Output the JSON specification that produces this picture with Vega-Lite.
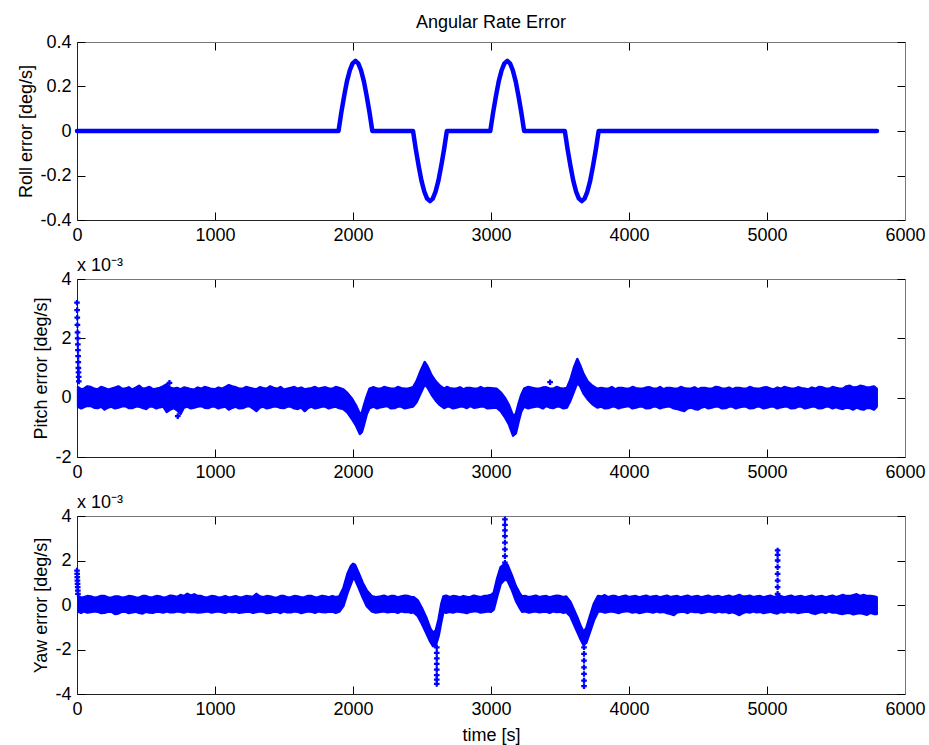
{
"$schema": "https://vega.github.io/schema/vega-lite/v6.json",
"padding": {"left": 17, "top": 14, "right": 10, "bottom": 5},
"spacing": 59,
"bounds": "flush",
"config": {
 "font": "Liberation Sans",
 "view": {"stroke": null},
 "axis": {"grid": false, "labelFontSize": 18, "labelColor": "#000", "titleFontSize": 18, "titleFontWeight": "normal", "titleColor": "#000", "tickSize": -8, "tickColor": "#000", "tickWidth": 1, "domainColor": "#222", "domainWidth": 1, "labelFlush": false, "labelOverlap": false, "labelFont": "Liberation Sans", "titleFont": "Liberation Sans", "labelPadding": 14},
 "title": {"fontSize": 18, "fontWeight": "normal", "font": "Liberation Sans", "color": "#000", "frame": "group"}
},
"datasets": {
 "roll": [{"t":0,"v":0},{"t":1895,"v":0},{"t":1915,"v":0.082},{"t":1936,"v":0.158},{"t":1956,"v":0.223},{"t":1977,"v":0.273},{"t":1997,"v":0.304},{"t":2018,"v":0.315},{"t":2038,"v":0.304},{"t":2058,"v":0.273},{"t":2079,"v":0.223},{"t":2099,"v":0.158},{"t":2120,"v":0.082},{"t":2140,"v":0},
  {"t":2435,"v":0},{"t":2455,"v":-0.082},{"t":2476,"v":-0.158},{"t":2496,"v":-0.223},{"t":2517,"v":-0.273},{"t":2537,"v":-0.304},{"t":2558,"v":-0.315},{"t":2578,"v":-0.304},{"t":2598,"v":-0.273},{"t":2619,"v":-0.223},{"t":2639,"v":-0.158},{"t":2660,"v":-0.082},{"t":2680,"v":0},
  {"t":2995,"v":0},{"t":3015,"v":0.082},{"t":3036,"v":0.158},{"t":3056,"v":0.223},{"t":3077,"v":0.273},{"t":3097,"v":0.304},{"t":3118,"v":0.315},{"t":3138,"v":0.304},{"t":3158,"v":0.273},{"t":3179,"v":0.223},{"t":3199,"v":0.158},{"t":3220,"v":0.082},{"t":3240,"v":0},
  {"t":3535,"v":0},{"t":3555,"v":-0.082},{"t":3576,"v":-0.158},{"t":3596,"v":-0.223},{"t":3617,"v":-0.273},{"t":3637,"v":-0.304},{"t":3658,"v":-0.315},{"t":3678,"v":-0.304},{"t":3698,"v":-0.273},{"t":3719,"v":-0.223},{"t":3739,"v":-0.158},{"t":3760,"v":-0.082},{"t":3780,"v":0},{"t":5797,"v":0}],
 "pitch": [{"t":8,"lo":-0.3,"hi":0.35},{"t":30,"lo":-0.36,"hi":0.28},{"t":50,"lo":-0.32,"hi":0.3},{"t":75,"lo":-0.27,"hi":0.38},{"t":100,"lo":-0.28,"hi":0.36},{"t":125,"lo":-0.34,"hi":0.3},{"t":150,"lo":-0.35,"hi":0.28},{"t":175,"lo":-0.3,"hi":0.36},{"t":200,"lo":-0.4,"hi":0.32},{"t":225,"lo":-0.33,"hi":0.27},{"t":250,"lo":-0.3,"hi":0.3},{"t":275,"lo":-0.36,"hi":0.34},{"t":300,"lo":-0.33,"hi":0.38},{"t":325,"lo":-0.29,"hi":0.3},{"t":350,"lo":-0.28,"hi":0.3},{"t":375,"lo":-0.35,"hi":0.35},{"t":400,"lo":-0.35,"hi":0.27},{"t":425,"lo":-0.3,"hi":0.33},{"t":450,"lo":-0.3,"hi":0.4},{"t":475,"lo":-0.34,"hi":0.3},{"t":500,"lo":-0.38,"hi":0.32},{"t":525,"lo":-0.3,"hi":0.36},{"t":550,"lo":-0.3,"hi":0.28},{"t":575,"lo":-0.36,"hi":0.3},{"t":600,"lo":-0.32,"hi":0.33},{"t":625,"lo":-0.3,"hi":0.38},{"t":650,"lo":-0.48,"hi":0.45},{"t":675,"lo":-0.4,"hi":0.34},{"t":700,"lo":-0.35,"hi":0.3},{"t":725,"lo":-0.42,"hi":0.33},{"t":750,"lo":-0.55,"hi":0.28},{"t":775,"lo":-0.33,"hi":0.34},{"t":800,"lo":-0.3,"hi":0.32},{"t":825,"lo":-0.36,"hi":0.28},{"t":850,"lo":-0.33,"hi":0.27},{"t":875,"lo":-0.3,"hi":0.34},{"t":900,"lo":-0.28,"hi":0.3},{"t":925,"lo":-0.34,"hi":0.36},{"t":950,"lo":-0.35,"hi":0.33},{"t":975,"lo":-0.3,"hi":0.29},{"t":1000,"lo":-0.3,"hi":0.28},{"t":1025,"lo":-0.36,"hi":0.34},{"t":1050,"lo":-0.32,"hi":0.3},{"t":1075,"lo":-0.3,"hi":0.36},{"t":1100,"lo":-0.4,"hi":0.42},{"t":1125,"lo":-0.34,"hi":0.38},{"t":1150,"lo":-0.3,"hi":0.35},{"t":1175,"lo":-0.36,"hi":0.3},{"t":1200,"lo":-0.35,"hi":0.3},{"t":1225,"lo":-0.3,"hi":0.36},{"t":1250,"lo":-0.28,"hi":0.33},{"t":1275,"lo":-0.36,"hi":0.3},{"t":1300,"lo":-0.45,"hi":0.28},{"t":1325,"lo":-0.33,"hi":0.35},{"t":1350,"lo":-0.3,"hi":0.32},{"t":1375,"lo":-0.36,"hi":0.3},{"t":1400,"lo":-0.33,"hi":0.38},{"t":1425,"lo":-0.29,"hi":0.33},{"t":1450,"lo":-0.3,"hi":0.3},{"t":1475,"lo":-0.34,"hi":0.36},{"t":1500,"lo":-0.35,"hi":0.27},{"t":1525,"lo":-0.3,"hi":0.3},{"t":1550,"lo":-0.3,"hi":0.33},{"t":1575,"lo":-0.36,"hi":0.36},{"t":1600,"lo":-0.38,"hi":0.3},{"t":1625,"lo":-0.33,"hi":0.34},{"t":1650,"lo":-0.45,"hi":0.28},{"t":1675,"lo":-0.34,"hi":0.3},{"t":1700,"lo":-0.3,"hi":0.32},{"t":1725,"lo":-0.36,"hi":0.36},{"t":1750,"lo":-0.33,"hi":0.3},{"t":1775,"lo":-0.3,"hi":0.33},{"t":1800,"lo":-0.3,"hi":0.35},{"t":1825,"lo":-0.36,"hi":0.3},{"t":1850,"lo":-0.32,"hi":0.3},{"t":1875,"lo":-0.3,"hi":0.36},{"t":1900,"lo":-0.35,"hi":0.33},
  {"t":1930,"lo":-0.38,"hi":0.28},{"t":1960,"lo":-0.5,"hi":0.15},{"t":1990,"lo":-0.7,"hi":-0.02},{"t":2020,"lo":-0.92,"hi":-0.25},{"t":2050,"lo":-1.22,"hi":-0.55},{"t":2065,"lo":-1.15,"hi":-0.5},{"t":2080,"lo":-0.9,"hi":-0.25},{"t":2100,"lo":-0.55,"hi":0.05},{"t":2120,"lo":-0.35,"hi":0.3},{"t":2150,"lo":-0.3,"hi":0.35},{"t":2175,"lo":-0.36,"hi":0.3},{"t":2200,"lo":-0.32,"hi":0.3},{"t":2225,"lo":-0.3,"hi":0.36},{"t":2250,"lo":-0.28,"hi":0.33},{"t":2275,"lo":-0.36,"hi":0.3},{"t":2300,"lo":-0.35,"hi":0.3},{"t":2325,"lo":-0.3,"hi":0.36},{"t":2350,"lo":-0.3,"hi":0.32},{"t":2375,"lo":-0.36,"hi":0.3},{"t":2400,"lo":-0.33,"hi":0.3},
  {"t":2435,"lo":-0.3,"hi":0.35},{"t":2460,"lo":-0.15,"hi":0.55},{"t":2490,"lo":0.15,"hi":0.9},{"t":2520,"lo":0.45,"hi":1.2},{"t":2540,"lo":0.35,"hi":1.05},{"t":2570,"lo":0.1,"hi":0.75},{"t":2600,"lo":-0.1,"hi":0.55},{"t":2630,"lo":-0.25,"hi":0.4},{"t":2660,"lo":-0.35,"hi":0.3},{"t":2680,"lo":-0.3,"hi":0.36},{"t":2700,"lo":-0.3,"hi":0.32},{"t":2725,"lo":-0.36,"hi":0.3},{"t":2750,"lo":-0.33,"hi":0.3},{"t":2775,"lo":-0.3,"hi":0.35},{"t":2800,"lo":-0.3,"hi":0.28},{"t":2825,"lo":-0.35,"hi":0.33},{"t":2850,"lo":-0.28,"hi":0.33},{"t":2875,"lo":-0.34,"hi":0.3},{"t":2900,"lo":-0.32,"hi":0.3},{"t":2925,"lo":-0.3,"hi":0.36},{"t":2950,"lo":-0.3,"hi":0.3},{"t":2975,"lo":-0.36,"hi":0.33},{"t":3000,"lo":-0.35,"hi":0.32},
  {"t":3040,"lo":-0.33,"hi":0.3},{"t":3070,"lo":-0.45,"hi":0.18},{"t":3100,"lo":-0.65,"hi":0.0},{"t":3130,"lo":-0.9,"hi":-0.25},{"t":3160,"lo":-1.28,"hi":-0.62},{"t":3180,"lo":-1.2,"hi":-0.55},{"t":3200,"lo":-0.8,"hi":-0.2},{"t":3220,"lo":-0.45,"hi":0.1},{"t":3240,"lo":-0.3,"hi":0.3},{"t":3270,"lo":-0.36,"hi":0.36},{"t":3300,"lo":-0.32,"hi":0.33},{"t":3325,"lo":-0.3,"hi":0.3},{"t":3350,"lo":-0.3,"hi":0.3},{"t":3375,"lo":-0.36,"hi":0.34},{"t":3400,"lo":-0.28,"hi":0.35},{"t":3425,"lo":-0.33,"hi":0.3},{"t":3450,"lo":-0.35,"hi":0.3},{"t":3475,"lo":-0.3,"hi":0.36},{"t":3500,"lo":-0.3,"hi":0.32},{"t":3525,"lo":-0.36,"hi":0.3},{"t":3550,"lo":-0.33,"hi":0.33},
  {"t":3575,"lo":-0.1,"hi":0.6},{"t":3600,"lo":0.2,"hi":1.0},{"t":3625,"lo":0.5,"hi":1.3},{"t":3645,"lo":0.4,"hi":1.1},{"t":3670,"lo":0.15,"hi":0.8},{"t":3700,"lo":-0.05,"hi":0.55},{"t":3735,"lo":-0.22,"hi":0.4},{"t":3770,"lo":-0.33,"hi":0.3},{"t":3800,"lo":-0.3,"hi":0.33},{"t":3825,"lo":-0.36,"hi":0.3},{"t":3850,"lo":-0.35,"hi":0.3},{"t":3875,"lo":-0.3,"hi":0.36},{"t":3900,"lo":-0.3,"hi":0.28},{"t":3925,"lo":-0.36,"hi":0.33},{"t":3950,"lo":-0.32,"hi":0.33},{"t":3975,"lo":-0.3,"hi":0.3},{"t":4000,"lo":-0.28,"hi":0.3},{"t":4025,"lo":-0.36,"hi":0.36},{"t":4050,"lo":-0.33,"hi":0.32},{"t":4075,"lo":-0.3,"hi":0.3},{"t":4100,"lo":-0.3,"hi":0.3},{"t":4125,"lo":-0.36,"hi":0.34},{"t":4150,"lo":-0.35,"hi":0.35},{"t":4175,"lo":-0.3,"hi":0.3},{"t":4200,"lo":-0.3,"hi":0.3},{"t":4225,"lo":-0.36,"hi":0.36},{"t":4250,"lo":-0.32,"hi":0.28},{"t":4275,"lo":-0.3,"hi":0.33},{"t":4300,"lo":-0.3,"hi":0.33},{"t":4325,"lo":-0.36,"hi":0.3},{"t":4350,"lo":-0.38,"hi":0.3},{"t":4375,"lo":-0.42,"hi":0.36},{"t":4400,"lo":-0.45,"hi":0.32},{"t":4425,"lo":-0.36,"hi":0.3},{"t":4450,"lo":-0.33,"hi":0.3},{"t":4475,"lo":-0.38,"hi":0.35},{"t":4500,"lo":-0.4,"hi":0.28},{"t":4525,"lo":-0.33,"hi":0.33},{"t":4550,"lo":-0.3,"hi":0.33},{"t":4575,"lo":-0.36,"hi":0.3},{"t":4600,"lo":-0.33,"hi":0.3},{"t":4625,"lo":-0.3,"hi":0.36},{"t":4650,"lo":-0.3,"hi":0.35},{"t":4675,"lo":-0.36,"hi":0.3},{"t":4700,"lo":-0.35,"hi":0.3},{"t":4725,"lo":-0.3,"hi":0.34},{"t":4750,"lo":-0.3,"hi":0.28},{"t":4775,"lo":-0.36,"hi":0.33},{"t":4800,"lo":-0.32,"hi":0.33},{"t":4825,"lo":-0.3,"hi":0.3},{"t":4850,"lo":-0.3,"hi":0.3},{"t":4875,"lo":-0.36,"hi":0.36},{"t":4900,"lo":-0.35,"hi":0.32},{"t":4925,"lo":-0.3,"hi":0.3},{"t":4950,"lo":-0.3,"hi":0.3},{"t":4975,"lo":-0.36,"hi":0.34},{"t":5000,"lo":-0.33,"hi":0.35},{"t":5025,"lo":-0.3,"hi":0.3},{"t":5050,"lo":-0.3,"hi":0.28},{"t":5075,"lo":-0.36,"hi":0.34},{"t":5100,"lo":-0.32,"hi":0.3},{"t":5125,"lo":-0.3,"hi":0.36},{"t":5150,"lo":-0.3,"hi":0.33},{"t":5175,"lo":-0.36,"hi":0.3},{"t":5200,"lo":-0.35,"hi":0.3},{"t":5225,"lo":-0.3,"hi":0.35},{"t":5250,"lo":-0.3,"hi":0.32},{"t":5275,"lo":-0.36,"hi":0.3},{"t":5300,"lo":-0.33,"hi":0.28},{"t":5325,"lo":-0.3,"hi":0.34},{"t":5350,"lo":-0.3,"hi":0.3},{"t":5375,"lo":-0.36,"hi":0.36},{"t":5400,"lo":-0.35,"hi":0.35},{"t":5425,"lo":-0.3,"hi":0.3},{"t":5450,"lo":-0.3,"hi":0.3},{"t":5475,"lo":-0.36,"hi":0.36},{"t":5500,"lo":-0.32,"hi":0.33},{"t":5525,"lo":-0.36,"hi":0.3},{"t":5550,"lo":-0.38,"hi":0.3},{"t":5575,"lo":-0.33,"hi":0.38},{"t":5600,"lo":-0.35,"hi":0.4},{"t":5625,"lo":-0.4,"hi":0.34},{"t":5650,"lo":-0.33,"hi":0.35},{"t":5675,"lo":-0.38,"hi":0.4},{"t":5700,"lo":-0.4,"hi":0.38},{"t":5725,"lo":-0.34,"hi":0.34},{"t":5750,"lo":-0.35,"hi":0.35},{"t":5775,"lo":-0.4,"hi":0.38},{"t":5795,"lo":-0.3,"hi":0.3}],
 "pitchPts": [{"t":0,"v":3.2},{"t":1,"v":2.95},{"t":2,"v":2.7},{"t":3,"v":2.45},{"t":4,"v":2.2},{"t":5,"v":2.0},{"t":6,"v":1.8},{"t":7,"v":1.6},{"t":8,"v":1.4},{"t":9,"v":1.2},{"t":10,"v":1.0},{"t":11,"v":0.85},{"t":12,"v":0.7},{"t":13,"v":0.55},{"t":3428,"v":0.52},{"t":670,"v":0.5},{"t":730,"v":-0.62}],
 "yaw": [{"t":10,"lo":-0.3,"hi":0.4},{"t":30,"lo":-0.35,"hi":0.33},{"t":50,"lo":-0.28,"hi":0.35},{"t":75,"lo":-0.34,"hi":0.4},{"t":100,"lo":-0.32,"hi":0.38},{"t":125,"lo":-0.28,"hi":0.33},{"t":150,"lo":-0.3,"hi":0.35},{"t":175,"lo":-0.36,"hi":0.41},{"t":200,"lo":-0.35,"hi":0.4},{"t":225,"lo":-0.3,"hi":0.34},{"t":250,"lo":-0.3,"hi":0.33},{"t":275,"lo":-0.4,"hi":0.38},{"t":300,"lo":-0.38,"hi":0.38},{"t":325,"lo":-0.3,"hi":0.33},{"t":350,"lo":-0.3,"hi":0.35},{"t":375,"lo":-0.36,"hi":0.4},{"t":400,"lo":-0.33,"hi":0.38},{"t":425,"lo":-0.3,"hi":0.34},{"t":450,"lo":-0.35,"hi":0.33},{"t":475,"lo":-0.38,"hi":0.4},{"t":500,"lo":-0.3,"hi":0.4},{"t":525,"lo":-0.34,"hi":0.34},{"t":550,"lo":-0.35,"hi":0.35},{"t":575,"lo":-0.3,"hi":0.4},{"t":600,"lo":-0.3,"hi":0.38},{"t":625,"lo":-0.34,"hi":0.33},{"t":650,"lo":-0.28,"hi":0.35},{"t":675,"lo":-0.33,"hi":0.42},{"t":700,"lo":-0.33,"hi":0.4},{"t":725,"lo":-0.28,"hi":0.36},{"t":750,"lo":-0.3,"hi":0.45},{"t":775,"lo":-0.34,"hi":0.4},{"t":800,"lo":-0.28,"hi":0.5},{"t":825,"lo":-0.32,"hi":0.42},{"t":850,"lo":-0.3,"hi":0.48},{"t":875,"lo":-0.34,"hi":0.4},{"t":900,"lo":-0.33,"hi":0.4},{"t":925,"lo":-0.3,"hi":0.34},{"t":950,"lo":-0.28,"hi":0.35},{"t":975,"lo":-0.34,"hi":0.4},{"t":1000,"lo":-0.3,"hi":0.38},{"t":1025,"lo":-0.28,"hi":0.33},{"t":1050,"lo":-0.32,"hi":0.35},{"t":1075,"lo":-0.35,"hi":0.4},{"t":1100,"lo":-0.28,"hi":0.33},{"t":1125,"lo":-0.32,"hi":0.36},{"t":1150,"lo":-0.3,"hi":0.4},{"t":1175,"lo":-0.35,"hi":0.34},{"t":1200,"lo":-0.33,"hi":0.35},{"t":1225,"lo":-0.3,"hi":0.4},{"t":1250,"lo":-0.3,"hi":0.38},{"t":1275,"lo":-0.35,"hi":0.36},{"t":1300,"lo":-0.32,"hi":0.5},{"t":1325,"lo":-0.28,"hi":0.38},{"t":1350,"lo":-0.3,"hi":0.35},{"t":1375,"lo":-0.36,"hi":0.4},{"t":1400,"lo":-0.35,"hi":0.38},{"t":1425,"lo":-0.3,"hi":0.34},{"t":1450,"lo":-0.3,"hi":0.33},{"t":1475,"lo":-0.36,"hi":0.4},{"t":1500,"lo":-0.28,"hi":0.4},{"t":1525,"lo":-0.33,"hi":0.34},{"t":1550,"lo":-0.33,"hi":0.35},{"t":1575,"lo":-0.28,"hi":0.4},{"t":1600,"lo":-0.3,"hi":0.38},{"t":1625,"lo":-0.36,"hi":0.34},{"t":1650,"lo":-0.32,"hi":0.35},{"t":1675,"lo":-0.28,"hi":0.41},{"t":1700,"lo":-0.3,"hi":0.4},{"t":1725,"lo":-0.35,"hi":0.34},{"t":1750,"lo":-0.28,"hi":0.35},{"t":1775,"lo":-0.32,"hi":0.41},{"t":1800,"lo":-0.33,"hi":0.38},{"t":1825,"lo":-0.29,"hi":0.34},{"t":1850,"lo":-0.3,"hi":0.4},{"t":1875,"lo":-0.35,"hi":0.35},{"t":1900,"lo":-0.3,"hi":0.38},
  {"t":1930,"lo":-0.05,"hi":0.75},{"t":1960,"lo":0.55,"hi":1.4},{"t":1985,"lo":0.95,"hi":1.75},{"t":2000,"lo":1.2,"hi":1.85},{"t":2015,"lo":1.15,"hi":1.8},{"t":2040,"lo":0.8,"hi":1.45},{"t":2070,"lo":0.35,"hi":1.0},{"t":2100,"lo":-0.05,"hi":0.65},{"t":2135,"lo":-0.28,"hi":0.4},{"t":2165,"lo":-0.34,"hi":0.35},{"t":2200,"lo":-0.3,"hi":0.38},{"t":2225,"lo":-0.28,"hi":0.42},{"t":2250,"lo":-0.33,"hi":0.35},{"t":2275,"lo":-0.3,"hi":0.4},{"t":2300,"lo":-0.3,"hi":0.4},{"t":2325,"lo":-0.35,"hi":0.34},{"t":2350,"lo":-0.28,"hi":0.38},{"t":2375,"lo":-0.32,"hi":0.42},{"t":2400,"lo":-0.3,"hi":0.4},{"t":2420,"lo":-0.35,"hi":0.36},{"t":2440,"lo":-0.33,"hi":0.35},
  {"t":2470,"lo":-0.5,"hi":0.2},{"t":2500,"lo":-0.85,"hi":-0.15},{"t":2530,"lo":-1.25,"hi":-0.55},{"t":2560,"lo":-1.65,"hi":-1.05},{"t":2580,"lo":-1.85,"hi":-1.25},{"t":2600,"lo":-1.8,"hi":-1.15},{"t":2620,"lo":-1.4,"hi":-0.65},{"t":2640,"lo":-0.75,"hi":0.05},{"t":2655,"lo":-0.3,"hi":0.38},{"t":2675,"lo":-0.35,"hi":0.42},{"t":2700,"lo":-0.3,"hi":0.35},{"t":2725,"lo":-0.34,"hi":0.4},{"t":2750,"lo":-0.28,"hi":0.38},{"t":2775,"lo":-0.3,"hi":0.34},{"t":2800,"lo":-0.33,"hi":0.4},{"t":2825,"lo":-0.36,"hi":0.36},{"t":2850,"lo":-0.3,"hi":0.35},{"t":2875,"lo":-0.28,"hi":0.42},{"t":2900,"lo":-0.28,"hi":0.38},{"t":2925,"lo":-0.34,"hi":0.35},{"t":2950,"lo":-0.32,"hi":0.4},{"t":2975,"lo":-0.28,"hi":0.42},{"t":3000,"lo":-0.3,"hi":0.45},
  {"t":3020,"lo":-0.2,"hi":0.55},{"t":3045,"lo":0.4,"hi":1.2},{"t":3070,"lo":0.95,"hi":1.7},{"t":3100,"lo":1.15,"hi":1.85},{"t":3120,"lo":1.1,"hi":1.8},{"t":3150,"lo":0.7,"hi":1.35},{"t":3180,"lo":0.2,"hi":0.85},{"t":3210,"lo":-0.15,"hi":0.5},{"t":3225,"lo":-0.3,"hi":0.38},{"t":3250,"lo":-0.28,"hi":0.4},{"t":3275,"lo":-0.34,"hi":0.35},{"t":3300,"lo":-0.3,"hi":0.38},{"t":3325,"lo":-0.28,"hi":0.42},{"t":3350,"lo":-0.33,"hi":0.35},{"t":3375,"lo":-0.3,"hi":0.38},{"t":3400,"lo":-0.3,"hi":0.4},{"t":3425,"lo":-0.35,"hi":0.34},{"t":3450,"lo":-0.28,"hi":0.38},{"t":3475,"lo":-0.32,"hi":0.42},{"t":3500,"lo":-0.3,"hi":0.4},{"t":3525,"lo":-0.35,"hi":0.35},{"t":3545,"lo":-0.32,"hi":0.38},
  {"t":3575,"lo":-0.5,"hi":0.15},{"t":3600,"lo":-0.85,"hi":-0.2},{"t":3625,"lo":-1.2,"hi":-0.55},{"t":3650,"lo":-1.55,"hi":-0.95},{"t":3670,"lo":-1.8,"hi":-1.2},{"t":3690,"lo":-1.7,"hi":-1.05},{"t":3715,"lo":-1.25,"hi":-0.55},{"t":3745,"lo":-0.7,"hi":0.05},{"t":3775,"lo":-0.3,"hi":0.4},{"t":3800,"lo":-0.28,"hi":0.38},{"t":3825,"lo":-0.34,"hi":0.44},{"t":3850,"lo":-0.3,"hi":0.35},{"t":3875,"lo":-0.28,"hi":0.4},{"t":3900,"lo":-0.32,"hi":0.4},{"t":3925,"lo":-0.36,"hi":0.34},{"t":3950,"lo":-0.3,"hi":0.38},{"t":3975,"lo":-0.28,"hi":0.42},{"t":4000,"lo":-0.28,"hi":0.35},{"t":4025,"lo":-0.34,"hi":0.38},{"t":4050,"lo":-0.3,"hi":0.4},{"t":4075,"lo":-0.36,"hi":0.34},{"t":4100,"lo":-0.33,"hi":0.38},{"t":4125,"lo":-0.28,"hi":0.42},{"t":4150,"lo":-0.3,"hi":0.35},{"t":4175,"lo":-0.34,"hi":0.38},{"t":4200,"lo":-0.28,"hi":0.4},{"t":4225,"lo":-0.33,"hi":0.34},{"t":4250,"lo":-0.3,"hi":0.38},{"t":4275,"lo":-0.36,"hi":0.42},{"t":4300,"lo":-0.4,"hi":0.35},{"t":4325,"lo":-0.45,"hi":0.38},{"t":4350,"lo":-0.33,"hi":0.4},{"t":4375,"lo":-0.3,"hi":0.34},{"t":4400,"lo":-0.3,"hi":0.38},{"t":4425,"lo":-0.36,"hi":0.42},{"t":4450,"lo":-0.28,"hi":0.35},{"t":4475,"lo":-0.32,"hi":0.38},{"t":4500,"lo":-0.3,"hi":0.4},{"t":4525,"lo":-0.36,"hi":0.34},{"t":4550,"lo":-0.33,"hi":0.38},{"t":4575,"lo":-0.28,"hi":0.42},{"t":4600,"lo":-0.3,"hi":0.35},{"t":4625,"lo":-0.34,"hi":0.38},{"t":4650,"lo":-0.28,"hi":0.4},{"t":4675,"lo":-0.33,"hi":0.34},{"t":4700,"lo":-0.3,"hi":0.38},{"t":4725,"lo":-0.36,"hi":0.42},{"t":4750,"lo":-0.32,"hi":0.35},{"t":4775,"lo":-0.38,"hi":0.4},{"t":4800,"lo":-0.45,"hi":0.45},{"t":4825,"lo":-0.36,"hi":0.38},{"t":4850,"lo":-0.3,"hi":0.38},{"t":4875,"lo":-0.34,"hi":0.42},{"t":4900,"lo":-0.28,"hi":0.35},{"t":4925,"lo":-0.33,"hi":0.38},{"t":4950,"lo":-0.3,"hi":0.4},{"t":4975,"lo":-0.36,"hi":0.34},{"t":5000,"lo":-0.33,"hi":0.38},{"t":5025,"lo":-0.3,"hi":0.42},{"t":5050,"lo":-0.35,"hi":0.35},{"t":5075,"lo":-0.38,"hi":0.4},{"t":5100,"lo":-0.3,"hi":0.4},{"t":5125,"lo":-0.34,"hi":0.34},{"t":5150,"lo":-0.28,"hi":0.38},{"t":5175,"lo":-0.33,"hi":0.42},{"t":5200,"lo":-0.3,"hi":0.35},{"t":5225,"lo":-0.36,"hi":0.38},{"t":5250,"lo":-0.33,"hi":0.4},{"t":5275,"lo":-0.3,"hi":0.34},{"t":5300,"lo":-0.3,"hi":0.38},{"t":5325,"lo":-0.36,"hi":0.42},{"t":5350,"lo":-0.4,"hi":0.35},{"t":5375,"lo":-0.34,"hi":0.38},{"t":5400,"lo":-0.3,"hi":0.4},{"t":5425,"lo":-0.36,"hi":0.34},{"t":5450,"lo":-0.28,"hi":0.38},{"t":5475,"lo":-0.34,"hi":0.42},{"t":5500,"lo":-0.33,"hi":0.35},{"t":5525,"lo":-0.38,"hi":0.4},{"t":5550,"lo":-0.4,"hi":0.45},{"t":5575,"lo":-0.36,"hi":0.4},{"t":5600,"lo":-0.35,"hi":0.4},{"t":5625,"lo":-0.42,"hi":0.44},{"t":5650,"lo":-0.38,"hi":0.48},{"t":5675,"lo":-0.36,"hi":0.4},{"t":5700,"lo":-0.4,"hi":0.45},{"t":5725,"lo":-0.44,"hi":0.4},{"t":5750,"lo":-0.35,"hi":0.4},{"t":5775,"lo":-0.4,"hi":0.38},{"t":5795,"lo":-0.4,"hi":0.35}],
 "yawPts": [{"t":0,"v":1.55},{"t":1,"v":1.4},{"t":2,"v":1.25},{"t":3,"v":1.1},{"t":4,"v":0.95},{"t":5,"v":0.8},{"t":6,"v":0.65},{"t":7,"v":0.5},
  {"t":2607,"v":-1.9},{"t":2607,"v":-2.15},{"t":2607,"v":-2.4},{"t":2607,"v":-2.65},{"t":2607,"v":-2.9},{"t":2607,"v":-3.15},{"t":2607,"v":-3.35},{"t":2607,"v":-3.55},
  {"t":3101,"v":1.9},{"t":3101,"v":2.2},{"t":3101,"v":2.5},{"t":3101,"v":2.8},{"t":3101,"v":3.1},{"t":3101,"v":3.35},{"t":3101,"v":3.6},{"t":3101,"v":3.85},
  {"t":3674,"v":-1.9},{"t":3674,"v":-2.2},{"t":3674,"v":-2.5},{"t":3674,"v":-2.8},{"t":3674,"v":-3.1},{"t":3674,"v":-3.4},{"t":3674,"v":-3.65},
  {"t":5077,"v":0.5},{"t":5077,"v":0.8},{"t":5077,"v":1.1},{"t":5077,"v":1.4},{"t":5077,"v":1.7},{"t":5077,"v":2.0},{"t":5077,"v":2.25},{"t":5077,"v":2.45}]
},
"vconcat": [
 {
  "width": 828, "height": 178,
  "title": {"text": "Angular Rate Error", "anchor": "middle", "offset": 1},
  "resolve": {"axis": {"x": "independent", "y": "independent"}},
  "layer": [
   {"data": {"name": "roll"},
    "mark": {"type": "line", "color": "#0000ff", "strokeWidth": 4.5, "strokeCap": "round", "strokeJoin": "round"},
    "encoding": {
     "x": {"field": "t", "type": "quantitative", "scale": {"domain": [0, 6000], "nice": false, "zero": false}, "axis": {"orient": "bottom", "title": null, "values": [0,1000,2000,3000,4000,5000,6000], "format": "d"}},
     "y": {"field": "v", "type": "quantitative", "scale": {"domain": [-0.4, 0.4], "nice": false}, "axis": {"orient": "left", "title": "Roll error [deg/s]", "titlePadding": 4, "values": [-0.4,-0.2,0,0.2,0.4], "labelExpr": "datum.value == 0 ? '0' : (datum.value < 0 ? '-' + format(-datum.value, '.1f') : format(datum.value, '.1f'))"}}
    }},
   {"data": {"name": "roll"},
    "mark": {"type": "point", "opacity": 0},
    "encoding": {
     "x": {"field": "t", "type": "quantitative", "scale": {"domain": [0, 6000], "nice": false, "zero": false}, "axis": {"orient": "top", "title": null, "labels": false, "values": [0,1000,2000,3000,4000,5000,6000], "domainColor": "#777"}},
     "y": {"field": "v", "type": "quantitative", "scale": {"domain": [-0.4, 0.4], "nice": false}, "axis": {"orient": "right", "title": null, "labels": false, "values": [-0.4,-0.2,0,0.2,0.4], "domainColor": "#777"}}
    }}
  ]
 },
 {
  "width": 828, "height": 178,
  "title": {"text": "x 10⁻³", "anchor": "start", "offset": -5},
  "resolve": {"axis": {"x": "independent", "y": "independent"}},
  "layer": [
   {"data": {"name": "pitch"},
    "mark": {"type": "area", "color": "#0000ff", "stroke": "#0000ff", "strokeWidth": 2.5, "strokeJoin": "round"},
    "encoding": {
     "x": {"field": "t", "type": "quantitative", "scale": {"domain": [0, 6000], "nice": false, "zero": false}, "axis": {"orient": "bottom", "title": null, "values": [0,1000,2000,3000,4000,5000,6000], "format": "d"}},
     "y": {"field": "lo", "type": "quantitative", "scale": {"domain": [-2, 4], "nice": false}, "axis": {"orient": "left", "title": "Pitch error [deg/s]", "titlePadding": 4, "values": [-2,0,2,4], "labelExpr": "datum.value < 0 ? '-' + (-datum.value) : '' + datum.value"}},
     "y2": {"field": "hi"}
    }},
   {"data": {"name": "pitchPts"},
    "mark": {"type": "point", "shape": "cross", "filled": true, "color": "#0000ff", "size": 32, "opacity": 1},
    "encoding": {
     "x": {"field": "t", "type": "quantitative", "scale": {"domain": [0, 6000], "nice": false, "zero": false}, "axis": null},
     "y": {"field": "v", "type": "quantitative", "scale": {"domain": [-2, 4], "nice": false}, "axis": null}
    }},
   {"data": {"name": "roll"},
    "mark": {"type": "point", "opacity": 0},
    "encoding": {
     "x": {"field": "t", "type": "quantitative", "scale": {"domain": [0, 6000], "nice": false, "zero": false}, "axis": {"orient": "top", "title": null, "labels": false, "values": [0,1000,2000,3000,4000,5000,6000], "domainColor": "#777"}},
     "y": {"field": "v", "type": "quantitative", "scale": {"domain": [-2, 4], "nice": false}, "axis": {"orient": "right", "title": null, "labels": false, "values": [-2,0,2,4], "domainColor": "#777"}}
    }}
  ]
 },
 {
  "width": 828, "height": 178,
  "title": {"text": "x 10⁻³", "anchor": "start", "offset": -5},
  "resolve": {"axis": {"x": "independent", "y": "independent"}},
  "layer": [
   {"data": {"name": "yaw"},
    "mark": {"type": "area", "color": "#0000ff", "stroke": "#0000ff", "strokeWidth": 2.5, "strokeJoin": "round"},
    "encoding": {
     "x": {"field": "t", "type": "quantitative", "scale": {"domain": [0, 6000], "nice": false, "zero": false}, "axis": {"orient": "bottom", "title": "time [s]", "titlePadding": 8, "values": [0,1000,2000,3000,4000,5000,6000], "format": "d"}},
     "y": {"field": "lo", "type": "quantitative", "scale": {"domain": [-4, 4], "nice": false}, "axis": {"orient": "left", "title": "Yaw error [deg/s]", "titlePadding": 4, "values": [-4,-2,0,2,4], "labelExpr": "datum.value < 0 ? '-' + (-datum.value) : '' + datum.value"}},
     "y2": {"field": "hi"}
    }},
   {"data": {"name": "yawPts"},
    "mark": {"type": "point", "shape": "cross", "filled": true, "color": "#0000ff", "size": 32, "opacity": 1},
    "encoding": {
     "x": {"field": "t", "type": "quantitative", "scale": {"domain": [0, 6000], "nice": false, "zero": false}, "axis": null},
     "y": {"field": "v", "type": "quantitative", "scale": {"domain": [-4, 4], "nice": false}, "axis": null}
    }},
   {"data": {"name": "roll"},
    "mark": {"type": "point", "opacity": 0},
    "encoding": {
     "x": {"field": "t", "type": "quantitative", "scale": {"domain": [0, 6000], "nice": false, "zero": false}, "axis": {"orient": "top", "title": null, "labels": false, "values": [0,1000,2000,3000,4000,5000,6000], "domainColor": "#777"}},
     "y": {"field": "v", "type": "quantitative", "scale": {"domain": [-4, 4], "nice": false}, "axis": {"orient": "right", "title": null, "labels": false, "values": [-4,-2,0,2,4], "domainColor": "#777"}}
    }}
  ]
 }
]
}
